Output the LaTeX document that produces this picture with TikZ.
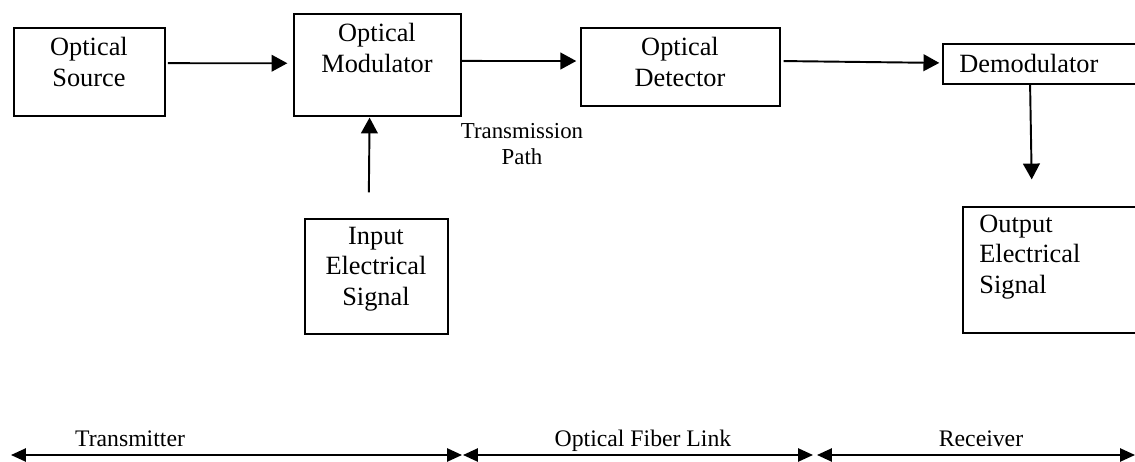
\documentclass[tikz,border=0pt]{standalone}
\usepackage{fontspec}
\setmainfont{Liberation Serif}
\usetikzlibrary{arrows.meta,fit}

\begin{document}
\begin{tikzpicture}[x=0.02cm,y=-0.02cm,
		box/.style={draw,line width=0.8pt,inner sep=0pt},
		txt/.style={align=center,inner sep=0pt,font=\fontsize{15}{17.5}\selectfont},
		lbl/.style={inner sep=0pt,anchor=base,font=\fontsize{13.5}{15.5}\selectfont},
		arr/.style={line width=1.1pt,-{Triangle[length=9pt,width=9.5pt]}},
		zone/.style={line width=1.1pt,{Triangle[length=8.5pt,width=7.5pt]}-{Triangle[length=8.5pt,width=7.5pt]}}]
	\useasboundingbox (0,0) rectangle (1135,462);
	\clip (0,0) rectangle (1135,462);

	% blocks
	\node[box,fit={(14,28) (165,116)}] (src) {};
	\node[box,fit={(294,14) (461,116)}] (mod) {};
	\node[box,fit={(581,28) (780,106)}] (det) {};
	\node[box,fit={(943,44) (1140,84)}] (demod) {};
	\node[box,fit={(305,219) (448,334)}] (inp) {};
	\node[box,fit={(963,207) (1140,333)}] (out) {};

	\node[txt] (srcT) at (89,62) {Optical\\Source};
	\node[txt] (modT) at (377,48) {Optical\\Modulator};
	\node[txt] (detT) at (680,62) {Optical\\Detector};
	\node[txt,anchor=west] (demodT) at (959,63) {Demodulator};
	\node[txt] (inpT) at (376,269) {Input\\Electrical\\Signal};
	\node[txt,align=left,anchor=west] (outT) at (979,257) {Output\\Electrical\\Signal};
	\node[txt,font=\fontsize{13}{15.3}\selectfont] (path) at (522,144) {Transmission\\Path};

	% signal flow
	\draw[arr,shorten <=1.2pt,shorten >=3.4pt] ([yshift=5pt]src.east) -- ([yshift=1pt]mod.west);
	\draw[arr,shorten >=2.3pt] ([yshift=2.3pt]mod.east) -- ([yshift=3.4pt]det.west);
	\draw[arr,shorten <=1.7pt,shorten >=1.7pt] ([yshift=3.4pt]det.east) -- ([yshift=0.6pt]demod.west);
	\draw[arr,shorten <=14.7pt,shorten >=0.5pt] ([xshift=-4.5pt]inp.north) -- ([xshift=-4.5pt]mod.south);
	\draw[arr,shorten >=15.3pt] ([xshift=-6.5pt]demod.south) -- ([xshift=-11pt]out.north);

	% sections
	\coordinate (t0) at (11,455);
	\coordinate (t1) at (462,455);
	\coordinate (f0) at (463,455);
	\coordinate (f1) at (813,455);
	\coordinate (r0) at (817,455);
	\coordinate (r1) at (1135,455);
	\draw[zone] (t0) -- (t1);
	\draw[zone] (f0) -- (f1);
	\draw[zone] (r0) -- (r1);
	\node[lbl] (tx) at (130,446) {Transmitter};
	\node[lbl] (link) at (643,446) {Optical Fiber Link};
	\node[lbl] (rx) at (981,446) {Receiver};
\end{tikzpicture}
\end{document}
